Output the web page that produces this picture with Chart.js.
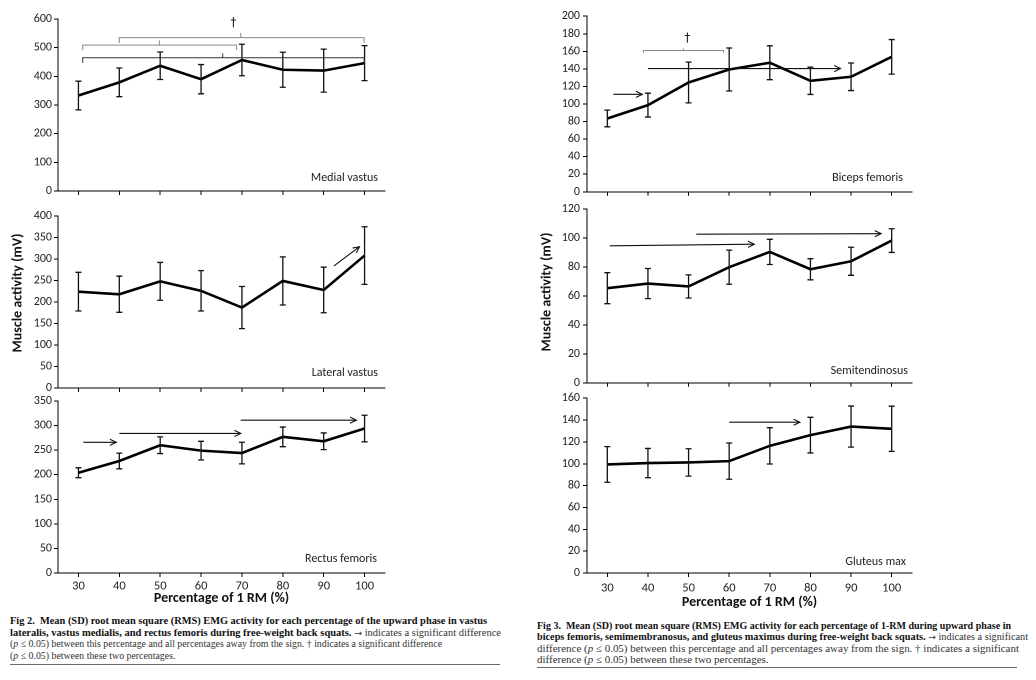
<!DOCTYPE html>
<html><head><meta charset="utf-8">
<script src="https://cdn.jsdelivr.net/npm/chart.js@4"></script>
<style>
body{margin:0;width:1036px;height:680px;background:#fff;position:relative;overflow:hidden}
canvas{position:absolute}
.cap{position:absolute;font-family:'Liberation Serif','Times New Roman',serif;font-size:10px;line-height:11px;white-space:nowrap;color:#333;transform-origin:0 50%}
.cap b{color:#111}
.ar{font-family:'DejaVu Sans',sans-serif;font-size:9px}
.rule{position:absolute;height:1px;background:#666}
</style></head><body>
<canvas id="c0"></canvas><canvas id="c1"></canvas><canvas id="c2"></canvas>
<canvas id="c3"></canvas><canvas id="c4"></canvas><canvas id="c5"></canvas>

<div class="cap" id="a1" style="left:10px;top:615px"><b>Fig 2.&nbsp; Mean (SD) root mean square (RMS) EMG activity for each percentage of the upward phase in vastus</b></div>
<div class="cap" id="a2" style="left:10px;top:626.5px"><b>lateralis, vastus medialis, and rectus femoris during free-weight back squats.</b> <span class="ar">→</span> indicates a significant difference</div>
<div class="cap" id="a3" style="left:10px;top:638px">(<i>p</i> ≤ 0.05) between this percentage and all percentages away from the sign. † indicates a significant difference</div>
<div class="cap" id="a4" style="left:10px;top:649.5px">(<i>p</i> ≤ 0.05) between these two percentages.</div>
<div class="rule" style="left:10px;top:664px;width:490px"></div>

<div class="cap" id="b1" style="left:537px;top:620px"><b>Fig 3.&nbsp; Mean (SD) root mean square (RMS) EMG activity for each percentage of 1-RM during upward phase in</b></div>
<div class="cap" id="b2" style="left:537px;top:631px"><b>biceps femoris, semimembranosus, and gluteus maximus during free-weight back squats.</b> <span class="ar">→</span> indicates a significant</div>
<div class="cap" id="b3" style="left:537px;top:642.5px">difference (<i>p</i> ≤ 0.05) between this percentage and all percentages away from the sign. † indicates a significant</div>
<div class="cap" id="b4" style="left:537px;top:654px">difference (<i>p</i> ≤ 0.05) between these two percentages.</div>
<div class="rule" style="left:537px;top:667px;width:480px"></div>

<script>
// ---------- DATA ----------
const categories = [30, 40, 50, 60, 70, 80, 90, 100];

const medialMean  = [333, 379, 437, 390, 457, 423, 420, 446];
const medialSD    = [50, 50, 48, 51, 55, 61, 75, 61];
const lateralMean = [224, 218, 248, 226, 187, 249, 228, 308];
const lateralSD   = [45, 42, 44, 47, 49, 56, 53, 67];
const rectusMean  = [204, 228, 260, 249, 244, 277, 268, 294];
const rectusSD    = [10, 16, 17, 19, 22, 20, 17, 27];

const bicepsMean  = [83.5, 98.7, 124.5, 139.3, 147, 126.4, 131, 153.7];
const bicepsSD    = [9.5, 13.6, 23.2, 24.5, 19.3, 15.5, 15.7, 19.7];
const semiMean    = [65.4, 68.6, 66.6, 79.9, 90.5, 78.5, 84, 98.3];
const semiSD      = [10.7, 10.4, 8, 11.8, 8.7, 7.3, 9.7, 8.2];
const glutMean    = [99.4, 100.6, 101.2, 102.4, 116.4, 126.2, 134, 132];
const glutSD      = [16.3, 13.4, 12.5, 16.6, 16.6, 16.3, 18.8, 20.7];

// significance arrows: [x1, y1, x2, y2] in data units
const arrowsMedial  = [];
const arrowsLateral = [[92.5, 284, 98.75, 328.5]];
const arrowsRectus  = [[31.2, 266, 39.25, 266], [40.0, 284, 69.7, 284], [69.7, 311, 98.0, 311]];
const arrowsBiceps  = [[31.5, 111, 38.6, 111], [40.0, 140.4, 87.4, 140.4]];
const arrowsSemi    = [[30.6, 94.7, 66.2, 95.8], [51.9, 102.7, 97.4, 103.1]];
const arrowsGlut    = [[60.0, 138, 77.4, 138]];

// brackets: [x1, x2, yLine, yEnd, xMid, yMid, shade]
const bracketsMedial = [[40.0, 99.9, 535, 516, 69.7, 551, 0], [31.05, 68.7, 509, 492, 49.8, 526, 0], [31.05, 99.9, 465, 447, 65.3, 480, 1]];
const bracketsBiceps = [[38.9, 58.6, 161, 158.5, 48.7, 163.5, 0]];
// dagger marks: [x, y]
const daggersMedial = [[67.9, 586]];
const daggersBiceps = [[49.7, 175]];

const xTitle = 'Percentage of 1 RM (%)';
const yTitle = 'Muscle activity (mV)';
const panelNames = ['Medial vastus', 'Lateral vastus', 'Rectus femoris', 'Biceps femoris', 'Semitendinosus', 'Gluteus max'];

// ---------- LAYOUT ----------
const SANS = "Carlito, Calibri, Lato, 'Open Sans', sans-serif";
const panels = [
  {left:0,   top:9,   w:400, h:192, axisW:58, padR:15, xH:10, ymax:600, step:100, mean:medialMean,  sd:medialSD,  arrows:arrowsMedial,  brackets:bracketsMedial, daggers:daggersMedial, name:panelNames[0], ndx:7, ndy:13, yLabPad:2},
  {left:0,   top:206, w:400, h:192, axisW:58, padR:15, xH:10, ymax:400, step:50,  mean:lateralMean, sd:lateralSD, arrows:arrowsLateral, brackets:[], daggers:[], name:panelNames[1], ndx:7, ndy:15, yLabPad:2, ytitle:{x:18, y:87}},
  {left:0,   top:391, w:400, h:216, axisW:58, padR:15, xH:34, ymax:350, step:50,  mean:rectusMean,  sd:rectusSD,  arrows:arrowsRectus,  brackets:[], daggers:[], name:panelNames[2], ndx:8, ndy:14, yLabPad:2, showX:true, xPad:2},
  {left:520, top:6,   w:400, h:196, axisW:67, padR:8,  xH:10, ymax:200, step:20,  mean:bicepsMean,  sd:bicepsSD,  arrows:arrowsBiceps,  brackets:bracketsBiceps, daggers:daggersBiceps, name:panelNames[3], ndx:9, ndy:14, yLabPad:3},
  {left:520, top:199, w:400, h:194, axisW:67, padR:8,  xH:10, ymax:120, step:20,  mean:semiMean,    sd:semiSD,    arrows:arrowsSemi,    brackets:[], daggers:[], name:panelNames[4], ndx:4, ndy:12, yLabPad:3, ytitle:{x:27, y:93}},
  {left:520, top:388, w:400, h:223, axisW:67, padR:8,  xH:38, ymax:160, step:20,  mean:glutMean,    sd:glutSD,    arrows:arrowsGlut,    brackets:[], daggers:[], name:panelNames[5], ndx:6, ndy:11, yLabPad:3, showX:true, xPad:4}
];

function arrowHead(ctx, x1, y1, x2, y2) {
  const a = Math.atan2(y2 - y1, x2 - x1), L = 7, s = 0.45;
  ctx.beginPath();
  ctx.moveTo(x2 - L * Math.cos(a - s), y2 - L * Math.sin(a - s));
  ctx.lineTo(x2, y2);
  ctx.lineTo(x2 - L * Math.cos(a + s), y2 - L * Math.sin(a + s));
  ctx.stroke();
}

const annotPlugin = {
  id: 'annot',
  afterDatasetsDraw(chart, args, p) {
    const {ctx, scales: {x, y}, chartArea} = chart;
    ctx.save();
    // error bars
    ctx.strokeStyle = '#111'; ctx.lineWidth = 1.3;
    categories.forEach((c, i) => {
      const px = x.getPixelForValue(c);
      const t = y.getPixelForValue(p.mean[i] + p.sd[i]);
      const b = y.getPixelForValue(p.mean[i] - p.sd[i]);
      ctx.beginPath();
      ctx.moveTo(px, t); ctx.lineTo(px, b);
      ctx.moveTo(px - 3, t); ctx.lineTo(px + 3, t);
      ctx.moveTo(px - 3, b); ctx.lineTo(px + 3, b);
      ctx.stroke();
    });
    // arrows
    ctx.lineWidth = 1.1; ctx.strokeStyle = '#111';
    p.arrows.forEach(a => {
      const x1 = x.getPixelForValue(a[0]), y1 = y.getPixelForValue(a[1]);
      const x2 = x.getPixelForValue(a[2]), y2 = y.getPixelForValue(a[3]);
      ctx.beginPath(); ctx.moveTo(x1, y1); ctx.lineTo(x2, y2); ctx.stroke();
      arrowHead(ctx, x1, y1, x2, y2);
    });
    // brackets
    p.brackets.forEach(bk => {
      ctx.strokeStyle = bk[6] ? '#333' : '#8a8a8a';
      ctx.lineWidth = 1;
      const x1 = x.getPixelForValue(bk[0]), x2 = x.getPixelForValue(bk[1]);
      const yl = y.getPixelForValue(bk[2]), ye = y.getPixelForValue(bk[3]);
      const xm = x.getPixelForValue(bk[4]), ym = y.getPixelForValue(bk[5]);
      ctx.beginPath();
      ctx.moveTo(x1, ye); ctx.lineTo(x1, yl); ctx.lineTo(x2, yl); ctx.lineTo(x2, ye);
      ctx.moveTo(xm, yl); ctx.lineTo(xm, ym);
      ctx.stroke();
    });
    // daggers
    ctx.fillStyle = '#111'; ctx.font = "12px 'DejaVu Sans', sans-serif";
    ctx.textAlign = 'center'; ctx.textBaseline = 'middle';
    p.daggers.forEach(d => ctx.fillText('†', x.getPixelForValue(d[0]), y.getPixelForValue(d[1])));
    // panel name
    ctx.fillStyle = '#222'; ctx.font = '12px ' + SANS;
    ctx.textAlign = 'right'; ctx.textBaseline = 'middle';
    ctx.fillText(p.name, chartArea.right - p.ndx, chartArea.bottom - p.ndy);
    // y title
    if (p.ytitle) {
      ctx.save();
      ctx.translate(p.ytitle.x, p.ytitle.y);
      ctx.rotate(-Math.PI / 2);
      ctx.fillStyle = '#111'; ctx.font = 'bold 14px ' + SANS;
      ctx.textAlign = 'center'; ctx.textBaseline = 'middle';
      ctx.fillText(yTitle, 0, 0);
      ctx.restore();
    }
    ctx.restore();
  }
};

panels.forEach((p, k) => {
  const cv = document.getElementById('c' + k);
  cv.width = p.w; cv.height = p.h;
  cv.style.left = p.left + 'px'; cv.style.top = p.top + 'px';
  cv.style.width = p.w + 'px'; cv.style.height = p.h + 'px';
  new Chart(cv, {
    type: 'line',
    data: {
      datasets: [{
        data: categories.map((c, i) => ({x: c, y: p.mean[i]})),
        borderColor: '#000', borderWidth: 2.6, pointRadius: 0, tension: 0, fill: false,
        borderJoinStyle: 'miter'
      }]
    },
    options: {
      responsive: false, animation: false, devicePixelRatio: 2,
      layout: {padding: {top: 10, right: p.padR, left: 0, bottom: 0}},
      plugins: {legend: {display: false}, tooltip: {enabled: false}, annot: p},
      scales: {
        x: {
          type: 'linear', min: 25, max: 105,
          afterBuildTicks: s => { s.ticks = categories.map(v => ({value: v})); },
          afterFit: s => { s.height = p.xH; },
          grid: {display: true, drawOnChartArea: false, drawTicks: true, tickLength: 4, color: '#000', lineWidth: 1},
          border: {display: true, color: '#000', width: 1},
          ticks: {display: !!p.showX, autoSkip: false, maxRotation: 0, padding: p.xPad || 3,
                  color: '#222', font: {family: SANS, size: 12.5}},
          title: {display: !!p.showX, text: xTitle, color: '#111', padding: 0,
                  font: {family: SANS, size: 14, weight: 'bold'}}
        },
        y: {
          min: 0, max: p.ymax,
          afterFit: s => { s.width = p.axisW; },
          grid: {display: true, drawOnChartArea: false, drawTicks: true, tickLength: 4, color: '#000', lineWidth: 1},
          border: {display: true, color: '#000', width: 1},
          ticks: {stepSize: p.step, padding: p.yLabPad, color: '#222', font: {family: SANS, size: 12}}
        }
      }
    },
    plugins: [annotPlugin]
  });
});

// caption line fitting
const capTargets = {a1: 477, a2: 491, a3: 432, b1: 474, b2: 491, b3: 482};
function fitCaps() {
  const sc = {};
  Object.keys(capTargets).forEach(id => {
    const el = document.getElementById(id);
    const w = el.getBoundingClientRect().width;
    sc[id] = capTargets[id] / w;
    el.style.transform = 'scaleX(' + sc[id] + ')';
  });
  document.getElementById('a4').style.transform = 'scaleX(' + sc.a3 + ')';
  document.getElementById('b4').style.transform = 'scaleX(' + sc.b3 + ')';
}
fitCaps();
</script>
</body></html>
